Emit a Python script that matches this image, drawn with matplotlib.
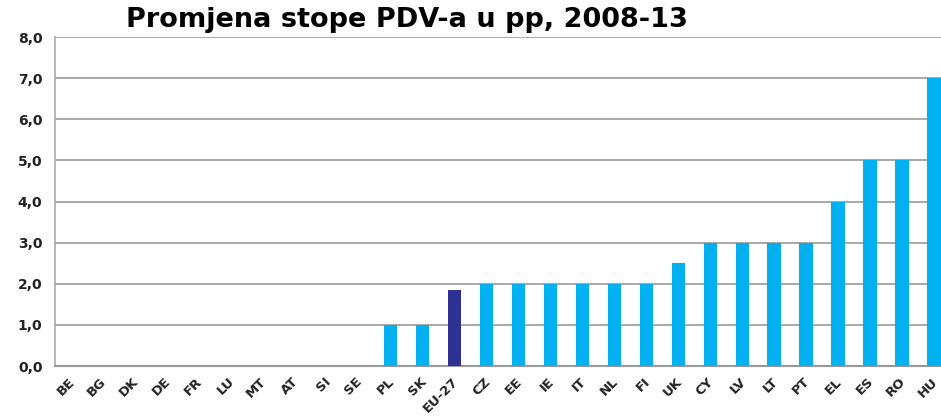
import matplotlib
matplotlib.use("Agg")
import matplotlib.pyplot as plt
import matplotlib.transforms as mtransforms
from matplotlib.ticker import FuncFormatter

categories = ["BE", "BG", "DK", "DE", "FR", "LU", "MT", "AT", "SI", "SE", "PL", "SK", "EU-27",
              "CZ", "EE", "IE", "IT", "NL", "FI", "UK", "CY", "LV", "LT", "PT", "EL", "ES", "RO", "HU"]
values = [0, 0, 0, 0, 0, 0, 0, 0, 0, 0, 1.0, 1.0, 1.85,
          2.0, 2.0, 2.0, 2.0, 2.0, 2.0, 2.5, 3.0, 3.0, 3.0, 3.0, 4.0, 5.0, 5.0, 7.0]
title = "Promjena stope PDV-a u pp, 2008-13"

light = "#00B0F0"
dark = "#2E3192"
colors = [dark if c == "EU-27" else light for c in categories]

fig = plt.figure(figsize=(9.41, 4.19), dpi=100)
ax = fig.add_axes([55/941, 53/419, 895/941, 329/419])
x = list(range(len(categories)))
ax.bar(x, values, width=0.42, color=colors, zorder=3)
ax.set_xlim(-0.5, len(categories) - 0.5)
ax.set_ylim(0, 8)
ax.set_yticks(range(0, 9))
ax.yaxis.set_major_formatter(FuncFormatter(lambda v, p: f"{v:.1f}".replace(".", ",")))
ax.grid(axis="y", color="#999999", linewidth=1.2, zorder=0)
for s in ["top", "right"]:
    ax.spines[s].set_visible(False)
ax.spines["left"].set_color("#aaaaaa")
ax.spines["bottom"].set_color("#999999")
ax.spines["left"].set_linewidth(1.2)
ax.spines["bottom"].set_linewidth(1.5)
ax.tick_params(length=0)
ax.set_xticks(x)
ax.set_xticklabels([])
offset = mtransforms.ScaledTranslation(-3/100, -9/100, fig.dpi_scale_trans)
trans = ax.get_xaxis_transform() + offset
for xi, c in zip(x, categories):
    ax.text(xi, 0, c, transform=trans, rotation=45, ha="right", va="top",
            rotation_mode="anchor", fontsize=9.5, fontweight="bold", color="#222222",
            clip_on=False)
for lbl in ax.get_yticklabels():
    lbl.set_fontsize(10)
    lbl.set_fontweight("bold")
    lbl.set_color("#222222")
ax.tick_params(axis="y", pad=9)
fig.text(407/941, 1 - 20/419, title, ha="center", va="center", fontsize=19.5, fontweight="bold")
fig.savefig("out.png", dpi=100)
